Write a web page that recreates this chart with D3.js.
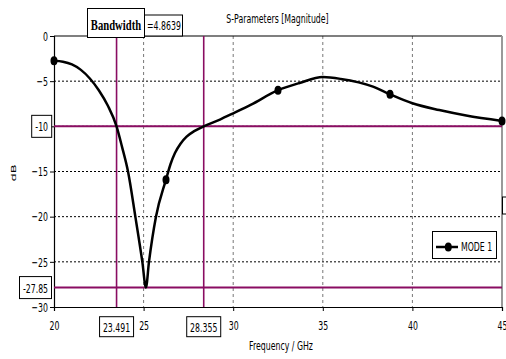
<!DOCTYPE html>
<html><head><meta charset="utf-8">
<script src="https://cdn.jsdelivr.net/npm/d3@7"></script>
<style>
html,body{margin:0;padding:0;background:#fff;}
svg text{font-family:"DejaVu Sans",sans-serif;font-size:13px;fill:#000;}
</style></head>
<body><svg id="c" width="506" height="359"></svg>
<script>
const freq = [20, 20.5, 21, 21.5, 22, 22.5, 23, 23.491, 23.8, 24.13, 24.54, 24.93, 25.13, 25.3, 25.69, 26.25, 26.5, 26.75, 27.05, 27.4, 27.85, 28.355, 29.26, 30, 31, 32.5, 33.7, 35, 36, 37.8, 38.75, 40, 41.5, 43, 45];
const dB   = [-2.75, -2.85, -3.15, -3.75, -4.7, -6.0, -7.7, -10, -12.3, -15, -20, -25, -27.85, -25, -20, -15.9, -14.2, -12.95, -11.95, -11.15, -10.5, -10, -9.25, -8.56, -7.6, -6.0, -5.2, -4.55, -4.75, -5.6, -6.45, -7.45, -8.2, -8.8, -9.4];
const markerFreq = [20, 26.25, 32.5, 38.75, 45];
const markerDB = [-2.75, -15.9, -6.0, -6.45, -9.4];
const xTicks = [20, 25, 30, 35, 40, 45];
const yTicks = [0, -5, -10, -15, -20, -25, -30];
const bwLow = 23.491, bwHigh = 28.355, levelDB = -10, minDB = -27.85;
const bandwidthValue = "=4.8639";
const title = "S-Parameters [Magnitude]";
const xLabel = "Frequency / GHz", yLabel = "dB", legendLabel = "MODE 1";

const K = 0.6; // horizontal squeeze of the lettering
const svg = d3.select("#c");
const x = d3.scaleLinear().domain([20, 45]).range([54, 502]);
const y = d3.scaleLinear().domain([-30, 0]).range([307, 36]);
const mag = "#8a0d62";

function squeeze(sel) {
  sel.each(function () {
    const t = d3.select(this);
    const ox = +(t.attr("x") || 0);
    t.attr("x", ox / K).attr("transform", `scale(${K},1)`);
  });
}
function label(px, py, txt, anchor) {
  return svg.append("text").attr("x", px / K).attr("y", py).attr("transform", `scale(${K},1)`)
    .attr("text-anchor", anchor || "middle").text(txt);
}

// gridlines
svg.append("g").selectAll("line").data(yTicks.filter(d => d < 0 && d > -30)).join("line")
  .attr("x1", x(20)).attr("x2", x(45)).attr("y1", d => y(d)).attr("y2", d => y(d))
  .attr("stroke", "#000").attr("stroke-width", 1).attr("stroke-dasharray", "2,2");
svg.append("g").selectAll("line").data(xTicks.filter(d => d > 20 && d < 45)).join("line")
  .attr("x1", d => x(d)).attr("x2", d => x(d)).attr("y1", y(0)).attr("y2", y(-30))
  .attr("stroke", "#777").attr("stroke-width", 1).attr("stroke-dasharray", "3,3");

// frame
svg.append("line").attr("x1", x(20)).attr("x2", x(45)).attr("y1", y(0)).attr("y2", y(0)).attr("stroke", "#000").attr("stroke-width", 1.2);
svg.append("line").attr("x1", x(45)).attr("x2", x(45)).attr("y1", y(0)).attr("y2", y(-30)).attr("stroke", "#999").attr("stroke-width", 2);

// axes (the -10 tick label is shown in its marker box instead)
const xAxis = svg.append("g").attr("transform", `translate(0,${y(-30)})`)
  .call(d3.axisBottom(x).tickValues(xTicks).tickSize(4).tickPadding(10).tickFormat(d3.format("d")));
const yAxis = svg.append("g").attr("transform", `translate(${x(20)},0)`)
  .call(d3.axisLeft(y).tickValues(yTicks).tickSize(4).tickPadding(2).tickFormat(d => d === levelDB ? "" : d3.format("d")(d)));
[xAxis, yAxis].forEach(a => {
  a.select(".domain").attr("stroke", "#000").attr("stroke-width", 1.2);
  a.selectAll(".tick line").attr("stroke", "#000");
  a.selectAll("text").attr("font-family", null).attr("font-size", null).call(squeeze);
});

// magenta marker lines
svg.append("line").attr("x1", x(20)).attr("x2", x(45)).attr("y1", y(levelDB)).attr("y2", y(levelDB)).attr("stroke", mag).attr("stroke-width", 2);
svg.append("line").attr("x1", x(20)).attr("x2", x(45)).attr("y1", y(minDB)).attr("y2", y(minDB)).attr("stroke", mag).attr("stroke-width", 2);
[bwLow, bwHigh].forEach(f => {
  svg.append("line").attr("x1", x(f)).attr("x2", x(f)).attr("y1", y(0)).attr("y2", y(-30)).attr("stroke", mag).attr("stroke-width", 1.6);
});

// curve
const pts = freq.map((f, i) => [f, dB[i]]);
svg.append("path").datum(pts)
  .attr("d", d3.line().x(d => x(d[0])).y(d => y(d[1])).curve(d3.curveMonotoneX))
  .attr("fill", "none").attr("stroke", "#000").attr("stroke-width", 2.5).attr("stroke-linejoin", "round");
svg.append("g").selectAll("ellipse").data(markerFreq.map((f, i) => [f, markerDB[i]])).join("ellipse")
  .attr("cx", d => x(d[0])).attr("cy", d => y(d[1])).attr("rx", 3.5).attr("ry", 4.5).attr("fill", "#000");

// value boxes
function box(cx, cy, w, h, txt) {
  svg.append("rect").attr("x", cx - w / 2).attr("y", cy - h / 2).attr("width", w).attr("height", h)
    .attr("fill", "#fff").attr("stroke", "#000").attr("stroke-width", 1);
  label(cx, cy + 5, txt);
}
box(41.7, y(levelDB), 20, 22, String(levelDB));
box(35.5, y(minDB), 32, 22, minDB.toFixed(2));
box(x(bwLow), 326.7, 34, 20, bwLow.toFixed(3));
box(x(bwHigh), 326.7, 34, 20, bwHigh.toFixed(3));

// Bandwidth label
const KB = 0.71;
svg.append("rect").attr("x", 87.5).attr("y", 8.5).attr("width", 57).attr("height", 29).attr("fill", "#fff").attr("stroke", "#000").attr("stroke-width", 1);
svg.append("text").attr("x", 116 / KB).attr("y", 30).attr("text-anchor", "middle").attr("transform", `scale(${KB},1)`)
  .style("font-family", "'Liberation Serif',serif").style("font-weight", "bold").style("font-size", "15px").text("Bandwidth");
svg.append("rect").attr("x", 144.5).attr("y", 15).attr("width", 38).attr("height", 21).attr("fill", "#fff").attr("stroke", "#000").attr("stroke-width", 1);
label(164, 30, bandwidthValue);

// cut-off box at right
svg.append("rect").attr("x", 502.5).attr("y", 197).attr("width", 20).attr("height", 17).attr("fill", "#fff").attr("stroke", "#000");

// titles
label(277.5, 23, title);
label(281, 350, xLabel);
svg.append("text").attr("transform", `translate(16,173) scale(${K},1) rotate(-90)`).attr("text-anchor", "middle").text(yLabel);

// legend
const lg = svg.append("g");
lg.append("rect").attr("x", 432.5).attr("y", 231.5).attr("width", 64).attr("height", 27).attr("fill", "#fff").attr("stroke", "#000");
lg.append("line").attr("x1", 436).attr("x2", 458).attr("y1", 247).attr("y2", 247).attr("stroke", "#000").attr("stroke-width", 2.5);
lg.append("ellipse").attr("cx", 448.3).attr("cy", 247).attr("rx", 3.5).attr("ry", 4.5).attr("fill", "#000");
label(461, 251.5, legendLabel, "start");
</script></body></html>
